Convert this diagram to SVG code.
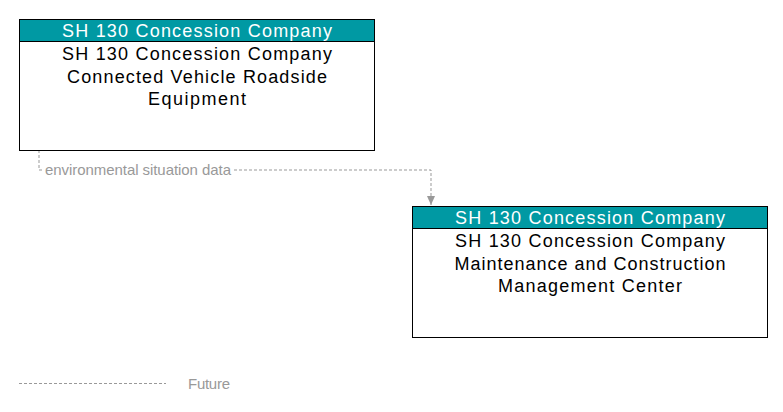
<svg xmlns="http://www.w3.org/2000/svg" width="783" height="412" viewBox="0 0 783 412">
<style>
.box{fill:#fff;stroke:#000;stroke-width:1}
.hdr{fill:#0099a3;stroke:#000;stroke-width:1}
.ht{font-family:"Liberation Sans",Arial,sans-serif;font-size:18px;fill:#fff;text-anchor:middle}
.bt{font-family:"Liberation Sans",Arial,sans-serif;font-size:18px;fill:#000;text-anchor:middle}
.flow{fill:none;stroke:#999;stroke-width:1;stroke-dasharray:3,2}
.lbl{font-family:"Liberation Sans",Arial,sans-serif;font-size:15px;fill:#999}
</style>
<defs>
<marker id="arr" markerWidth="10" markerHeight="8" refX="9" refY="4" orient="auto" markerUnits="userSpaceOnUse">
<path d="M0,0 L9,4 L0,8 z" fill="#999"/>
</marker>
</defs>
<g id="connectors">
<path class="flow" d="M39,150 V170 H431 V205" marker-end="url(#arr)"/>
<rect x="43" y="162" width="191" height="16" fill="#fff"/>
<text class="lbl" x="45" y="175" textLength="186">environmental situation data</text>
</g>
<g id="node1">
<rect class="box" x="19.5" y="19.5" width="355" height="131"/>
<rect class="hdr" x="19.5" y="19.5" width="355" height="22"/>
<text class="ht" x="197" y="37" textLength="270">SH 130 Concession Company</text>
<text class="bt" x="197" y="60" textLength="270">SH 130 Concession Company</text>
<text class="bt" x="197" y="83" textLength="260">Connected Vehicle Roadside</text>
<text class="bt" x="197" y="105" textLength="98">Equipment</text>
</g>
<g id="node2">
<rect class="box" x="412.5" y="206.5" width="355" height="131"/>
<rect class="hdr" x="412.5" y="206.5" width="355" height="22"/>
<text class="ht" x="590" y="224" textLength="270">SH 130 Concession Company</text>
<text class="bt" x="590" y="247" textLength="270">SH 130 Concession Company</text>
<text class="bt" x="590" y="270" textLength="271">Maintenance and Construction</text>
<text class="bt" x="590" y="292" textLength="184">Management Center</text>
</g>
<g id="legend">
<line class="flow" x1="19" y1="383.5" x2="166" y2="383.5"/>
<text class="lbl" x="188" y="389" textLength="42">Future</text>
</g>
</svg>
